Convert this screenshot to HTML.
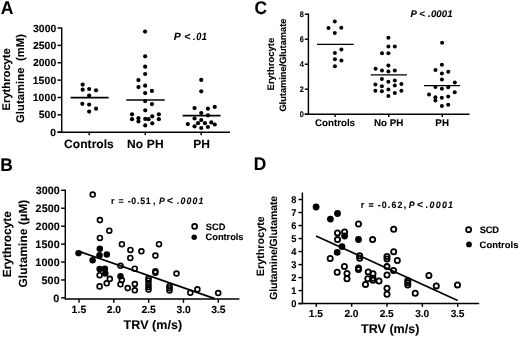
<!DOCTYPE html>
<html><head><meta charset="utf-8"><style>
html,body{margin:0;padding:0;background:#fff;}
body{width:520px;height:337px;overflow:hidden;}
svg{display:block;will-change:transform;}
text{font-family:"Liberation Sans",sans-serif;font-weight:bold;fill:#000;stroke:#000;stroke-width:0.1px;text-rendering:geometricPrecision;}
line{stroke:#000;}
</style></head><body>
<svg width="520" height="337" viewBox="0 0 520 337">
<rect width="520" height="337" fill="#fff"/>
<text xml:space="preserve" transform="matrix(0.95,0,0,1,0.76,13.90)" font-size="18.5" style="letter-spacing:0.000px">A</text>
<line x1="61.70" y1="27.40" x2="61.70" y2="132.85" stroke-width="1.45"/>
<line x1="57.50" y1="132.20" x2="230.00" y2="132.20" stroke-width="1.45"/>
<line x1="57.50" y1="132.20" x2="61.70" y2="132.20" stroke-width="1.45"/>
<text xml:space="preserve" transform="matrix(1.0,0,0,1,50.14,135.80)" font-size="10.4" style="letter-spacing:0.000px">0</text>
<line x1="57.50" y1="114.83" x2="61.70" y2="114.83" stroke-width="1.45"/>
<text xml:space="preserve" transform="matrix(1.0,0,0,1,38.63,118.43)" font-size="10.4" style="letter-spacing:0.126px">500</text>
<line x1="57.50" y1="97.47" x2="61.70" y2="97.47" stroke-width="1.45"/>
<text xml:space="preserve" transform="matrix(1.0,0,0,1,32.64,101.07)" font-size="10.4" style="letter-spacing:0.151px">1000</text>
<line x1="57.50" y1="80.10" x2="61.70" y2="80.10" stroke-width="1.45"/>
<text xml:space="preserve" transform="matrix(1.0,0,0,1,32.64,83.70)" font-size="10.4" style="letter-spacing:0.151px">1500</text>
<line x1="57.50" y1="62.73" x2="61.70" y2="62.73" stroke-width="1.45"/>
<text xml:space="preserve" transform="matrix(1.0,0,0,1,32.94,66.33)" font-size="10.4" style="letter-spacing:0.054px">2000</text>
<line x1="57.50" y1="45.37" x2="61.70" y2="45.37" stroke-width="1.45"/>
<text xml:space="preserve" transform="matrix(1.0,0,0,1,32.94,48.97)" font-size="10.4" style="letter-spacing:0.054px">2500</text>
<line x1="57.50" y1="28.00" x2="61.70" y2="28.00" stroke-width="1.45"/>
<text xml:space="preserve" transform="matrix(1.0,0,0,1,33.06,31.60)" font-size="10.4" style="letter-spacing:0.012px">3000</text>
<line x1="89.20" y1="132.20" x2="89.20" y2="135.20" stroke-width="1.45"/>
<line x1="145.30" y1="132.20" x2="145.30" y2="135.20" stroke-width="1.45"/>
<line x1="201.20" y1="132.20" x2="201.20" y2="135.20" stroke-width="1.45"/>
<text xml:space="preserve" transform="matrix(1.0,0,0,1,64.11,147.70)" font-size="12.0" style="letter-spacing:0.050px">Controls</text>
<text xml:space="preserve" transform="matrix(1.0,0,0,1,127.00,147.70)" font-size="12.0" style="letter-spacing:0.177px">No PH</text>
<text xml:space="preserve" transform="matrix(1.0,0,0,1,193.20,147.70)" font-size="12.0" style="letter-spacing:-0.060px">PH</text>
<text xml:space="preserve" transform="matrix(1.0,0,0,1,173.80,39.90)" font-size="10.5" style="font-style:italic;letter-spacing:0.000px">P</text>
<text xml:space="preserve" transform="matrix(1.0,0,0,1,184.23,39.90)" font-size="10.5" style="font-style:italic;letter-spacing:0.000px">&lt;</text>
<text xml:space="preserve" transform="matrix(0.88,0,0,1,193.09,39.90)" font-size="10.5" style="font-style:italic;letter-spacing:0.607px">.01</text>
<text xml:space="preserve" transform="matrix(0,-1.0,1,0,9.60,110.45)" font-size="11.2" style="letter-spacing:0.008px">Erythrocyte</text>
<text xml:space="preserve" transform="matrix(0,-1.0,1,0,24.00,123.06)" font-size="11.2" style="letter-spacing:0.098px">Glutamine  (mM)</text>
<line x1="70.60" y1="97.60" x2="108.60" y2="97.60" stroke-width="1.7"/>
<line x1="126.30" y1="100.00" x2="164.70" y2="100.00" stroke-width="1.7"/>
<line x1="182.60" y1="115.60" x2="220.50" y2="115.60" stroke-width="1.7"/>
<circle cx="82.65" cy="84.60" r="2.1"/>
<circle cx="82.65" cy="89.70" r="2.1"/>
<circle cx="89.15" cy="89.00" r="2.1"/>
<circle cx="96.05" cy="90.30" r="2.1"/>
<circle cx="89.15" cy="95.50" r="2.1"/>
<circle cx="82.35" cy="103.80" r="2.1"/>
<circle cx="89.15" cy="104.60" r="2.1"/>
<circle cx="96.05" cy="108.70" r="2.1"/>
<circle cx="89.15" cy="111.60" r="2.1"/>
<circle cx="145.05" cy="31.60" r="2.1"/>
<circle cx="145.15" cy="56.30" r="2.1"/>
<circle cx="145.15" cy="66.70" r="2.1"/>
<circle cx="145.15" cy="74.00" r="2.1"/>
<circle cx="138.45" cy="80.10" r="2.1"/>
<circle cx="145.15" cy="85.70" r="2.1"/>
<circle cx="138.45" cy="87.10" r="2.1"/>
<circle cx="151.95" cy="90.90" r="2.1"/>
<circle cx="145.15" cy="93.10" r="2.1"/>
<circle cx="145.15" cy="101.10" r="2.1"/>
<circle cx="151.95" cy="104.10" r="2.1"/>
<circle cx="145.25" cy="110.30" r="2.1"/>
<circle cx="132.05" cy="114.30" r="2.1"/>
<circle cx="158.85" cy="114.30" r="2.1"/>
<circle cx="152.25" cy="116.30" r="2.1"/>
<circle cx="138.45" cy="118.20" r="2.1"/>
<circle cx="145.25" cy="118.90" r="2.1"/>
<circle cx="132.05" cy="119.20" r="2.1"/>
<circle cx="148.55" cy="119.20" r="2.1"/>
<circle cx="158.85" cy="119.20" r="2.1"/>
<circle cx="138.45" cy="121.50" r="2.1"/>
<circle cx="152.25" cy="123.30" r="2.1"/>
<circle cx="145.25" cy="125.40" r="2.1"/>
<circle cx="201.25" cy="79.90" r="2.1"/>
<circle cx="201.25" cy="91.30" r="2.1"/>
<circle cx="194.55" cy="108.10" r="2.1"/>
<circle cx="207.95" cy="108.70" r="2.1"/>
<circle cx="214.75" cy="106.90" r="2.1"/>
<circle cx="201.25" cy="113.00" r="2.1"/>
<circle cx="207.95" cy="115.30" r="2.1"/>
<circle cx="194.55" cy="118.50" r="2.1"/>
<circle cx="201.25" cy="120.10" r="2.1"/>
<circle cx="198.05" cy="123.20" r="2.1"/>
<circle cx="204.95" cy="123.20" r="2.1"/>
<circle cx="211.25" cy="122.40" r="2.1"/>
<circle cx="214.75" cy="124.50" r="2.1"/>
<circle cx="187.85" cy="124.10" r="2.1"/>
<circle cx="194.55" cy="126.30" r="2.1"/>
<circle cx="201.25" cy="128.00" r="2.1"/>
<circle cx="207.95" cy="127.00" r="2.1"/>
<text xml:space="preserve" transform="matrix(0.95,0,0,1,254.55,13.60)" font-size="18.3" style="letter-spacing:0.000px">C</text>
<line x1="308.40" y1="13.50" x2="308.40" y2="114.90" stroke-width="1.45"/>
<line x1="304.80" y1="114.20" x2="469.50" y2="114.20" stroke-width="1.45"/>
<line x1="304.80" y1="114.20" x2="308.40" y2="114.20" stroke-width="1.45"/>
<text xml:space="preserve" transform="matrix(0.9,0,0,1,299.75,116.90)" font-size="8.2" style="letter-spacing:0.000px">0</text>
<line x1="304.80" y1="89.20" x2="308.40" y2="89.20" stroke-width="1.45"/>
<text xml:space="preserve" transform="matrix(0.9,0,0,1,299.77,91.90)" font-size="8.2" style="letter-spacing:0.000px">2</text>
<line x1="304.80" y1="64.20" x2="308.40" y2="64.20" stroke-width="1.45"/>
<text xml:space="preserve" transform="matrix(0.9,0,0,1,299.71,66.90)" font-size="8.2" style="letter-spacing:0.000px">4</text>
<line x1="304.80" y1="39.20" x2="308.40" y2="39.20" stroke-width="1.45"/>
<text xml:space="preserve" transform="matrix(0.9,0,0,1,299.74,41.90)" font-size="8.2" style="letter-spacing:0.000px">6</text>
<line x1="304.80" y1="14.20" x2="308.40" y2="14.20" stroke-width="1.45"/>
<text xml:space="preserve" transform="matrix(0.9,0,0,1,299.74,16.90)" font-size="8.2" style="letter-spacing:0.000px">8</text>
<line x1="335.10" y1="114.20" x2="335.10" y2="117.00" stroke-width="1.45"/>
<line x1="388.80" y1="114.20" x2="388.80" y2="117.00" stroke-width="1.45"/>
<line x1="442.30" y1="114.20" x2="442.30" y2="117.00" stroke-width="1.45"/>
<text xml:space="preserve" transform="matrix(1.0,0,0,1,315.00,125.90)" font-size="9.75" style="letter-spacing:-0.012px">Controls</text>
<text xml:space="preserve" transform="matrix(1.0,0,0,1,373.95,125.90)" font-size="9.75" style="letter-spacing:0.014px">No PH</text>
<text xml:space="preserve" transform="matrix(1.0,0,0,1,435.15,125.90)" font-size="9.75" style="letter-spacing:0.464px">PH</text>
<text xml:space="preserve" transform="matrix(1.0,0,0,1,410.46,16.80)" font-size="9.6" style="font-style:italic;letter-spacing:0.000px">P</text>
<text xml:space="preserve" transform="matrix(1.0,0,0,1,419.31,16.80)" font-size="9.6" style="font-style:italic;letter-spacing:0.000px">&lt;</text>
<text xml:space="preserve" transform="matrix(1.0,0,0,1,428.08,16.80)" font-size="9.6" style="font-style:italic;letter-spacing:0.130px">.0001</text>
<text xml:space="preserve" transform="matrix(0,-1.0,1,0,273.90,90.44)" font-size="9.5" style="letter-spacing:-0.014px">Erythrocyte</text>
<text xml:space="preserve" transform="matrix(0,-1.0,1,0,286.20,111.58)" font-size="9.3" style="letter-spacing:-0.030px">Glutamine/Glutamate</text>
<line x1="317.00" y1="44.40" x2="353.70" y2="44.40" stroke-width="1.35"/>
<line x1="370.70" y1="74.90" x2="406.90" y2="74.90" stroke-width="1.35"/>
<line x1="424.00" y1="85.60" x2="460.10" y2="85.60" stroke-width="1.35"/>
<circle cx="334.80" cy="21.60" r="2.0"/>
<circle cx="328.50" cy="28.00" r="2.0"/>
<circle cx="341.30" cy="27.80" r="2.0"/>
<circle cx="334.80" cy="33.00" r="2.0"/>
<circle cx="341.40" cy="49.50" r="2.0"/>
<circle cx="334.90" cy="53.00" r="2.0"/>
<circle cx="334.90" cy="59.20" r="2.0"/>
<circle cx="341.40" cy="60.60" r="2.0"/>
<circle cx="334.90" cy="66.30" r="2.0"/>
<circle cx="388.40" cy="37.80" r="2.0"/>
<circle cx="388.40" cy="46.60" r="2.0"/>
<circle cx="394.80" cy="46.50" r="2.0"/>
<circle cx="382.00" cy="53.30" r="2.0"/>
<circle cx="388.40" cy="53.30" r="2.0"/>
<circle cx="388.40" cy="65.50" r="2.0"/>
<circle cx="375.60" cy="68.70" r="2.0"/>
<circle cx="382.00" cy="70.60" r="2.0"/>
<circle cx="388.40" cy="71.60" r="2.0"/>
<circle cx="394.80" cy="70.60" r="2.0"/>
<circle cx="381.90" cy="79.00" r="2.0"/>
<circle cx="388.40" cy="81.80" r="2.0"/>
<circle cx="394.80" cy="80.50" r="2.0"/>
<circle cx="375.40" cy="84.40" r="2.0"/>
<circle cx="381.90" cy="86.30" r="2.0"/>
<circle cx="394.80" cy="85.50" r="2.0"/>
<circle cx="401.40" cy="83.90" r="2.0"/>
<circle cx="388.40" cy="89.40" r="2.0"/>
<circle cx="375.40" cy="90.70" r="2.0"/>
<circle cx="381.90" cy="91.20" r="2.0"/>
<circle cx="401.40" cy="90.70" r="2.0"/>
<circle cx="394.80" cy="93.10" r="2.0"/>
<circle cx="388.40" cy="96.10" r="2.0"/>
<circle cx="442.10" cy="42.80" r="2.0"/>
<circle cx="441.90" cy="64.80" r="2.0"/>
<circle cx="435.50" cy="70.00" r="2.0"/>
<circle cx="448.30" cy="71.70" r="2.0"/>
<circle cx="441.90" cy="73.40" r="2.0"/>
<circle cx="441.90" cy="79.40" r="2.0"/>
<circle cx="454.80" cy="82.60" r="2.0"/>
<circle cx="435.40" cy="87.00" r="2.0"/>
<circle cx="441.90" cy="88.70" r="2.0"/>
<circle cx="448.20" cy="87.20" r="2.0"/>
<circle cx="454.70" cy="92.20" r="2.0"/>
<circle cx="429.00" cy="94.40" r="2.0"/>
<circle cx="435.40" cy="97.20" r="2.0"/>
<circle cx="435.40" cy="100.40" r="2.0"/>
<circle cx="441.80" cy="97.80" r="2.0"/>
<circle cx="448.20" cy="96.60" r="2.0"/>
<circle cx="441.90" cy="105.90" r="2.0"/>
<circle cx="448.20" cy="104.80" r="2.0"/>
<text xml:space="preserve" transform="matrix(0.95,0,0,1,0.18,170.60)" font-size="18.3" style="letter-spacing:0.000px">B</text>
<line x1="65.30" y1="189.70" x2="65.30" y2="299.65" stroke-width="1.45"/>
<line x1="65.30" y1="299.00" x2="239.40" y2="299.00" stroke-width="1.45"/>
<line x1="61.10" y1="297.90" x2="65.30" y2="297.90" stroke-width="1.45"/>
<text xml:space="preserve" transform="matrix(1.0,0,0,1,53.30,301.60)" font-size="10.8" style="letter-spacing:0.000px">0</text>
<line x1="61.10" y1="279.97" x2="65.30" y2="279.97" stroke-width="1.45"/>
<text xml:space="preserve" transform="matrix(1.0,0,0,1,41.47,283.67)" font-size="10.8" style="letter-spacing:0.082px">500</text>
<line x1="61.10" y1="262.03" x2="65.30" y2="262.03" stroke-width="1.45"/>
<text xml:space="preserve" transform="matrix(1.0,0,0,1,35.32,265.73)" font-size="10.8" style="letter-spacing:0.101px">1000</text>
<line x1="61.10" y1="244.10" x2="65.30" y2="244.10" stroke-width="1.45"/>
<text xml:space="preserve" transform="matrix(1.0,0,0,1,35.32,247.80)" font-size="10.8" style="letter-spacing:0.101px">1500</text>
<line x1="61.10" y1="226.17" x2="65.30" y2="226.17" stroke-width="1.45"/>
<text xml:space="preserve" transform="matrix(1.0,0,0,1,35.62,229.87)" font-size="10.8" style="letter-spacing:0.001px">2000</text>
<line x1="61.10" y1="208.23" x2="65.30" y2="208.23" stroke-width="1.45"/>
<text xml:space="preserve" transform="matrix(1.0,0,0,1,35.62,211.93)" font-size="10.8" style="letter-spacing:0.001px">2500</text>
<line x1="61.10" y1="190.30" x2="65.30" y2="190.30" stroke-width="1.45"/>
<text xml:space="preserve" transform="matrix(1.0,0,0,1,35.75,194.00)" font-size="10.8" style="letter-spacing:-0.043px">3000</text>
<line x1="79.00" y1="299.00" x2="79.00" y2="302.80" stroke-width="1.45"/>
<text xml:space="preserve" transform="matrix(1.0,0,0,1,71.54,313.00)" font-size="10.4" style="letter-spacing:0.095px">1.5</text>
<line x1="113.83" y1="299.00" x2="113.83" y2="302.80" stroke-width="1.45"/>
<text xml:space="preserve" transform="matrix(1.0,0,0,1,106.66,313.00)" font-size="10.4" style="letter-spacing:0.017px">2.0</text>
<line x1="148.65" y1="299.00" x2="148.65" y2="302.80" stroke-width="1.45"/>
<text xml:space="preserve" transform="matrix(1.0,0,0,1,141.49,313.00)" font-size="10.4" style="letter-spacing:-0.050px">2.5</text>
<line x1="183.48" y1="299.00" x2="183.48" y2="302.80" stroke-width="1.45"/>
<text xml:space="preserve" transform="matrix(1.0,0,0,1,176.44,313.00)" font-size="10.4" style="letter-spacing:-0.045px">3.0</text>
<line x1="218.30" y1="299.00" x2="218.30" y2="302.80" stroke-width="1.45"/>
<text xml:space="preserve" transform="matrix(1.0,0,0,1,211.26,313.00)" font-size="10.4" style="letter-spacing:-0.113px">3.5</text>
<text xml:space="preserve" transform="matrix(1.0,0,0,1,123.61,329.00)" font-size="12.5" style="letter-spacing:0.050px">TRV (m/s)</text>
<text xml:space="preserve" transform="matrix(0,-1.0,1,0,10.60,277.19)" font-size="11.8" style="letter-spacing:0.051px">Erythrocyte</text>
<text xml:space="preserve" transform="matrix(0,-1.0,1,0,27.00,287.48)" font-size="11.8" style="letter-spacing:0.146px">Glutamine (μM)</text>
<text xml:space="preserve" transform="matrix(0.95,0,0,1,111.08,203.50)" font-size="9.2" style="letter-spacing:0.000px">r</text>
<text xml:space="preserve" transform="matrix(0.95,0,0,1,118.44,203.50)" font-size="9.2" style="letter-spacing:0.000px">=</text>
<text xml:space="preserve" transform="matrix(0.95,0,0,1,127.66,203.50)" font-size="9.2" style="letter-spacing:0.807px">-0.51</text>
<text xml:space="preserve" transform="matrix(0.95,0,0,1,152.88,203.50)" font-size="9.2" style="letter-spacing:0.000px">,</text>
<text xml:space="preserve" transform="matrix(0.95,0,0,1,158.90,203.50)" font-size="9.2" style="font-style:italic;letter-spacing:0.000px">P</text>
<text xml:space="preserve" transform="matrix(0.95,0,0,1,176.90,203.50)" font-size="9.2" style="font-style:italic;letter-spacing:1.238px">.0001</text>
<text xml:space="preserve" transform="matrix(1.0,0,0,1,166.83,204.10)" font-size="10.5" style="font-style:italic;letter-spacing:0.000px">&lt;</text>
<line x1="79.00" y1="251.40" x2="214.80" y2="298.60" stroke-width="1.7"/>
<circle cx="92.70" cy="194.50" r="2.45" fill="none" stroke="#000" stroke-width="1.65"/>
<circle cx="99.90" cy="220.10" r="2.45" fill="none" stroke="#000" stroke-width="1.65"/>
<circle cx="109.30" cy="230.70" r="2.45" fill="none" stroke="#000" stroke-width="1.65"/>
<circle cx="99.90" cy="237.90" r="2.45" fill="none" stroke="#000" stroke-width="1.65"/>
<circle cx="121.90" cy="244.20" r="2.45" fill="none" stroke="#000" stroke-width="1.65"/>
<circle cx="159.00" cy="244.20" r="2.45" fill="none" stroke="#000" stroke-width="1.65"/>
<circle cx="130.40" cy="249.90" r="2.45" fill="none" stroke="#000" stroke-width="1.65"/>
<circle cx="141.40" cy="251.30" r="2.45" fill="none" stroke="#000" stroke-width="1.65"/>
<circle cx="130.30" cy="257.90" r="2.45" fill="none" stroke="#000" stroke-width="1.65"/>
<circle cx="155.40" cy="255.60" r="2.45" fill="none" stroke="#000" stroke-width="1.65"/>
<circle cx="120.50" cy="265.80" r="2.45" fill="none" stroke="#000" stroke-width="1.65"/>
<circle cx="134.70" cy="268.70" r="2.45" fill="none" stroke="#000" stroke-width="1.65"/>
<circle cx="155.40" cy="271.30" r="2.45" fill="none" stroke="#000" stroke-width="1.65"/>
<circle cx="155.40" cy="272.70" r="2.45" fill="none" stroke="#000" stroke-width="1.65"/>
<circle cx="176.50" cy="273.50" r="2.45" fill="none" stroke="#000" stroke-width="1.65"/>
<circle cx="99.60" cy="275.20" r="2.45" fill="none" stroke="#000" stroke-width="1.65"/>
<circle cx="109.80" cy="278.90" r="2.45" fill="none" stroke="#000" stroke-width="1.65"/>
<circle cx="106.70" cy="283.30" r="2.45" fill="none" stroke="#000" stroke-width="1.65"/>
<circle cx="99.60" cy="286.40" r="2.45" fill="none" stroke="#000" stroke-width="1.65"/>
<circle cx="121.80" cy="280.10" r="2.45" fill="none" stroke="#000" stroke-width="1.65"/>
<circle cx="120.50" cy="284.30" r="2.45" fill="none" stroke="#000" stroke-width="1.65"/>
<circle cx="127.70" cy="288.10" r="2.45" fill="none" stroke="#000" stroke-width="1.65"/>
<circle cx="134.80" cy="284.00" r="2.45" fill="none" stroke="#000" stroke-width="1.65"/>
<circle cx="134.80" cy="290.30" r="2.45" fill="none" stroke="#000" stroke-width="1.65"/>
<circle cx="148.50" cy="278.40" r="2.45" fill="none" stroke="#000" stroke-width="1.65"/>
<circle cx="148.50" cy="280.60" r="2.45" fill="none" stroke="#000" stroke-width="1.65"/>
<circle cx="148.50" cy="283.90" r="2.45" fill="none" stroke="#000" stroke-width="1.65"/>
<circle cx="148.50" cy="287.00" r="2.45" fill="none" stroke="#000" stroke-width="1.65"/>
<circle cx="148.50" cy="289.60" r="2.45" fill="none" stroke="#000" stroke-width="1.65"/>
<circle cx="169.50" cy="286.00" r="2.45" fill="none" stroke="#000" stroke-width="1.65"/>
<circle cx="169.50" cy="288.20" r="2.45" fill="none" stroke="#000" stroke-width="1.65"/>
<circle cx="169.50" cy="290.50" r="2.45" fill="none" stroke="#000" stroke-width="1.65"/>
<circle cx="190.30" cy="292.70" r="2.45" fill="none" stroke="#000" stroke-width="1.65"/>
<circle cx="197.40" cy="289.30" r="2.45" fill="none" stroke="#000" stroke-width="1.65"/>
<circle cx="218.20" cy="293.00" r="2.45" fill="none" stroke="#000" stroke-width="1.65"/>
<circle cx="78.50" cy="253.20" r="3.25"/>
<circle cx="92.60" cy="260.20" r="3.25"/>
<circle cx="99.80" cy="248.70" r="3.25"/>
<circle cx="99.50" cy="255.20" r="3.25"/>
<circle cx="106.80" cy="254.60" r="3.25"/>
<circle cx="99.60" cy="269.10" r="3.25"/>
<circle cx="104.90" cy="268.70" r="3.25"/>
<circle cx="105.30" cy="273.60" r="3.25"/>
<circle cx="120.50" cy="276.20" r="3.25"/>
<circle cx="194.60" cy="226.40" r="2.45" fill="none" stroke="#000" stroke-width="1.75"/>
<circle cx="194.20" cy="237.20" r="2.75"/>
<text xml:space="preserve" transform="matrix(1.0,0,0,1,205.73,229.70)" font-size="9.3" style="letter-spacing:0.014px">SCD</text>
<text xml:space="preserve" transform="matrix(1.0,0,0,1,205.62,240.30)" font-size="9.3" style="letter-spacing:-0.053px">Controls</text>
<text xml:space="preserve" transform="matrix(0.95,0,0,1,253.71,170.40)" font-size="18.3" style="letter-spacing:0.000px">D</text>
<line x1="302.40" y1="192.50" x2="302.40" y2="304.05" stroke-width="1.45"/>
<line x1="298.50" y1="303.40" x2="479.20" y2="303.40" stroke-width="1.45"/>
<line x1="298.50" y1="303.60" x2="302.40" y2="303.60" stroke-width="1.45"/>
<text xml:space="preserve" transform="matrix(0.95,0,0,1,291.32,306.90)" font-size="9.8" style="letter-spacing:0.000px">0</text>
<line x1="298.50" y1="290.59" x2="302.40" y2="290.59" stroke-width="1.45"/>
<text xml:space="preserve" transform="matrix(0.95,0,0,1,291.15,293.89)" font-size="9.8" style="letter-spacing:0.000px">1</text>
<line x1="298.50" y1="277.58" x2="302.40" y2="277.58" stroke-width="1.45"/>
<text xml:space="preserve" transform="matrix(0.95,0,0,1,291.34,280.88)" font-size="9.8" style="letter-spacing:0.000px">2</text>
<line x1="298.50" y1="264.57" x2="302.40" y2="264.57" stroke-width="1.45"/>
<text xml:space="preserve" transform="matrix(0.95,0,0,1,291.37,267.87)" font-size="9.8" style="letter-spacing:0.000px">3</text>
<line x1="298.50" y1="251.56" x2="302.40" y2="251.56" stroke-width="1.45"/>
<text xml:space="preserve" transform="matrix(0.95,0,0,1,291.27,254.86)" font-size="9.8" style="letter-spacing:0.000px">4</text>
<line x1="298.50" y1="238.55" x2="302.40" y2="238.55" stroke-width="1.45"/>
<text xml:space="preserve" transform="matrix(0.95,0,0,1,291.30,241.85)" font-size="9.8" style="letter-spacing:0.000px">5</text>
<line x1="298.50" y1="225.54" x2="302.40" y2="225.54" stroke-width="1.45"/>
<text xml:space="preserve" transform="matrix(0.95,0,0,1,291.31,228.84)" font-size="9.8" style="letter-spacing:0.000px">6</text>
<line x1="298.50" y1="212.53" x2="302.40" y2="212.53" stroke-width="1.45"/>
<text xml:space="preserve" transform="matrix(0.95,0,0,1,291.32,215.83)" font-size="9.8" style="letter-spacing:0.000px">7</text>
<line x1="298.50" y1="199.52" x2="302.40" y2="199.52" stroke-width="1.45"/>
<text xml:space="preserve" transform="matrix(0.95,0,0,1,291.31,202.82)" font-size="9.8" style="letter-spacing:0.000px">8</text>
<line x1="316.30" y1="303.40" x2="316.30" y2="306.80" stroke-width="1.45"/>
<text xml:space="preserve" transform="matrix(1.0,0,0,1,308.86,317.20)" font-size="10.2" style="letter-spacing:-0.025px">1.5</text>
<line x1="351.65" y1="303.40" x2="351.65" y2="306.80" stroke-width="1.45"/>
<text xml:space="preserve" transform="matrix(1.0,0,0,1,344.49,317.20)" font-size="10.2" style="letter-spacing:-0.101px">2.0</text>
<line x1="387.00" y1="303.40" x2="387.00" y2="306.80" stroke-width="1.45"/>
<text xml:space="preserve" transform="matrix(1.0,0,0,1,379.84,317.20)" font-size="10.2" style="letter-spacing:-0.168px">2.5</text>
<line x1="422.35" y1="303.40" x2="422.35" y2="306.80" stroke-width="1.45"/>
<text xml:space="preserve" transform="matrix(1.0,0,0,1,415.32,317.20)" font-size="10.2" style="letter-spacing:-0.163px">3.0</text>
<line x1="457.70" y1="303.40" x2="457.70" y2="306.80" stroke-width="1.45"/>
<text xml:space="preserve" transform="matrix(1.0,0,0,1,450.67,317.20)" font-size="10.2" style="letter-spacing:-0.229px">3.5</text>
<text xml:space="preserve" transform="matrix(1.0,0,0,1,361.11,332.85)" font-size="12.5" style="letter-spacing:0.019px">TRV (m/s)</text>
<text xml:space="preserve" transform="matrix(0,-1.0,1,0,264.00,276.22)" font-size="10.7" style="stroke-width:0.05px;letter-spacing:0.051px">Erythrocyte</text>
<text xml:space="preserve" transform="matrix(0,-1.0,1,0,277.00,299.83)" font-size="10.5" style="stroke-width:0.05px;letter-spacing:-0.090px">Glutamine/Glutamate</text>
<text xml:space="preserve" transform="matrix(0.95,0,0,1,360.66,207.50)" font-size="9.3" style="letter-spacing:0.000px">r</text>
<text xml:space="preserve" transform="matrix(0.95,0,0,1,368.47,207.50)" font-size="9.3" style="letter-spacing:0.000px">=</text>
<text xml:space="preserve" transform="matrix(0.95,0,0,1,377.66,207.50)" font-size="9.3" style="letter-spacing:1.201px">-0.62</text>
<text xml:space="preserve" transform="matrix(0.95,0,0,1,403.77,207.50)" font-size="9.3" style="letter-spacing:0.000px">,</text>
<text xml:space="preserve" transform="matrix(0.95,0,0,1,408.82,207.50)" font-size="9.3" style="font-style:italic;letter-spacing:0.000px">P</text>
<text xml:space="preserve" transform="matrix(0.95,0,0,1,425.80,207.50)" font-size="9.3" style="font-style:italic;letter-spacing:1.336px">.0001</text>
<text xml:space="preserve" transform="matrix(1.0,0,0,1,416.78,208.10)" font-size="10.5" style="font-style:italic;letter-spacing:0.000px">&lt;</text>
<line x1="316.00" y1="235.90" x2="457.70" y2="300.50" stroke-width="1.7"/>
<circle cx="358.50" cy="224.00" r="2.6" fill="none" stroke="#000" stroke-width="1.8"/>
<circle cx="393.70" cy="229.20" r="2.6" fill="none" stroke="#000" stroke-width="1.8"/>
<circle cx="337.50" cy="232.90" r="2.6" fill="none" stroke="#000" stroke-width="1.8"/>
<circle cx="344.60" cy="232.00" r="2.6" fill="none" stroke="#000" stroke-width="1.8"/>
<circle cx="337.50" cy="239.60" r="2.6" fill="none" stroke="#000" stroke-width="1.8"/>
<circle cx="372.60" cy="239.60" r="2.6" fill="none" stroke="#000" stroke-width="1.8"/>
<circle cx="393.70" cy="251.70" r="2.6" fill="none" stroke="#000" stroke-width="1.8"/>
<circle cx="330.20" cy="258.50" r="2.6" fill="none" stroke="#000" stroke-width="1.8"/>
<circle cx="359.70" cy="255.80" r="2.6" fill="none" stroke="#000" stroke-width="1.8"/>
<circle cx="359.70" cy="258.20" r="2.6" fill="none" stroke="#000" stroke-width="1.8"/>
<circle cx="344.40" cy="266.50" r="2.6" fill="none" stroke="#000" stroke-width="1.8"/>
<circle cx="337.20" cy="272.20" r="2.6" fill="none" stroke="#000" stroke-width="1.8"/>
<circle cx="347.00" cy="273.40" r="2.6" fill="none" stroke="#000" stroke-width="1.8"/>
<circle cx="347.00" cy="278.80" r="2.6" fill="none" stroke="#000" stroke-width="1.8"/>
<circle cx="358.50" cy="268.00" r="2.6" fill="none" stroke="#000" stroke-width="1.8"/>
<circle cx="358.50" cy="269.60" r="2.6" fill="none" stroke="#000" stroke-width="1.8"/>
<circle cx="368.20" cy="271.90" r="2.6" fill="none" stroke="#000" stroke-width="1.8"/>
<circle cx="373.00" cy="273.80" r="2.6" fill="none" stroke="#000" stroke-width="1.8"/>
<circle cx="367.80" cy="278.80" r="2.6" fill="none" stroke="#000" stroke-width="1.8"/>
<circle cx="373.00" cy="278.20" r="2.6" fill="none" stroke="#000" stroke-width="1.8"/>
<circle cx="373.00" cy="280.20" r="2.6" fill="none" stroke="#000" stroke-width="1.8"/>
<circle cx="379.00" cy="281.00" r="2.6" fill="none" stroke="#000" stroke-width="1.8"/>
<circle cx="365.50" cy="284.40" r="2.6" fill="none" stroke="#000" stroke-width="1.8"/>
<circle cx="387.00" cy="256.50" r="2.6" fill="none" stroke="#000" stroke-width="1.8"/>
<circle cx="387.00" cy="258.90" r="2.6" fill="none" stroke="#000" stroke-width="1.8"/>
<circle cx="397.30" cy="260.50" r="2.6" fill="none" stroke="#000" stroke-width="1.8"/>
<circle cx="387.00" cy="266.60" r="2.6" fill="none" stroke="#000" stroke-width="1.8"/>
<circle cx="393.50" cy="270.40" r="2.6" fill="none" stroke="#000" stroke-width="1.8"/>
<circle cx="387.00" cy="275.00" r="2.6" fill="none" stroke="#000" stroke-width="1.8"/>
<circle cx="387.00" cy="288.20" r="2.6" fill="none" stroke="#000" stroke-width="1.8"/>
<circle cx="387.00" cy="294.20" r="2.6" fill="none" stroke="#000" stroke-width="1.8"/>
<circle cx="407.80" cy="280.50" r="2.6" fill="none" stroke="#000" stroke-width="1.8"/>
<circle cx="407.80" cy="282.60" r="2.6" fill="none" stroke="#000" stroke-width="1.8"/>
<circle cx="407.80" cy="284.90" r="2.6" fill="none" stroke="#000" stroke-width="1.8"/>
<circle cx="415.20" cy="293.30" r="2.6" fill="none" stroke="#000" stroke-width="1.8"/>
<circle cx="428.90" cy="275.40" r="2.6" fill="none" stroke="#000" stroke-width="1.8"/>
<circle cx="436.30" cy="285.90" r="2.6" fill="none" stroke="#000" stroke-width="1.8"/>
<circle cx="457.50" cy="284.90" r="2.6" fill="none" stroke="#000" stroke-width="1.8"/>
<circle cx="316.10" cy="207.00" r="3.4"/>
<circle cx="337.50" cy="213.50" r="3.4"/>
<circle cx="330.40" cy="219.10" r="3.4"/>
<circle cx="344.60" cy="236.00" r="3.4"/>
<circle cx="358.50" cy="239.50" r="3.4"/>
<circle cx="342.00" cy="246.60" r="3.4"/>
<circle cx="337.20" cy="252.40" r="3.4"/>
<circle cx="468.60" cy="229.70" r="2.5" fill="none" stroke="#000" stroke-width="1.8"/>
<circle cx="469.00" cy="244.40" r="2.9"/>
<text xml:space="preserve" transform="matrix(1.0,0,0,1,479.73,233.00)" font-size="9.4" style="letter-spacing:-0.213px">SCD</text>
<text xml:space="preserve" transform="matrix(1.0,0,0,1,479.61,247.60)" font-size="9.4" style="letter-spacing:0.032px">Controls</text>
</svg>
</body></html>
